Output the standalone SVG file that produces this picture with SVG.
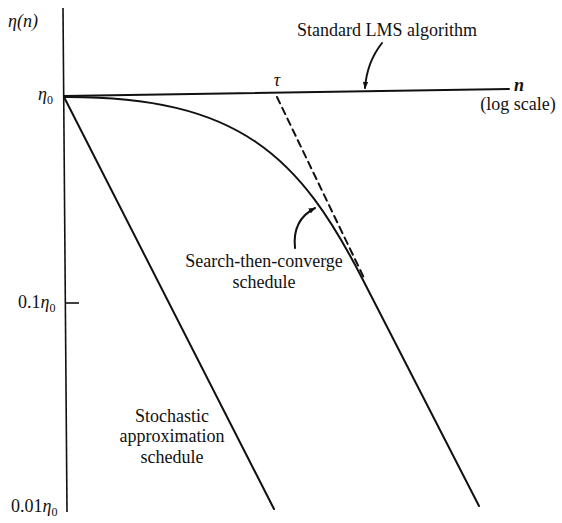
<svg xmlns="http://www.w3.org/2000/svg" width="562" height="523" viewBox="0 0 562 523">
<style>
text{font-family:"Liberation Serif","DejaVu Serif","Times New Roman",serif;font-size:18px;fill:#111}
.i{font-style:italic}
.ln{fill:none;stroke:#111;stroke-width:2;stroke-linecap:round}
.ax{fill:none;stroke:#111;stroke-width:1.6}
</style>
<defs>
<marker id="ah" viewBox="0 0 10 10" refX="9" refY="5" markerWidth="7" markerHeight="7" orient="auto" markerUnits="userSpaceOnUse">
<path d="M0,1 L10,5 L0,9 Z" fill="#111"/>
</marker>
</defs>
<rect width="562" height="523" fill="#fff"/>
<g id="axes">
<line class="ax" x1="63" y1="8" x2="67" y2="512"/>
<line class="ax" x1="66" y1="303" x2="79" y2="303"/>
<text class="i" x="8" y="27" font-size="17">η(n)</text>
<text class="i" x="38" y="100">η<tspan font-size="12" font-style="normal" dy="4">0</tspan></text>
<text x="18" y="308" font-size="17">0.1<tspan class="i">η</tspan><tspan font-size="12" dy="4">0</tspan></text>
<text x="11" y="512" font-size="17">0.01<tspan class="i">η</tspan><tspan font-size="12" dy="4">0</tspan></text>
</g>
<g id="lms">
<line class="ln" x1="64" y1="96" x2="509" y2="89"/>
<text class="i" x="514" y="91" font-size="14" font-weight="bold">n</text>
<text x="518" y="110" text-anchor="middle" font-size="16">(log scale)</text>
<text x="297" y="36" font-size="18.5">Standard LMS algorithm</text>
</g>
<g id="stochastic">
<line class="ln" x1="64" y1="97" x2="274" y2="509"/>
<text x="172" y="422" text-anchor="middle">Stochastic</text>
<text x="172" y="442" text-anchor="middle">approximation</text>
<text x="172" y="463" text-anchor="middle">schedule</text>
</g>
<g id="stc">
<path class="ln" d="M64,97 C240,96 300,157 363,280 L479,506"/>
<line class="ln" x1="277" y1="97" x2="365" y2="280" stroke-dasharray="7,5"/>
<text class="i" x="277" y="86" text-anchor="middle" font-size="14">τ</text>
<text x="264" y="267" text-anchor="middle" font-size="18.5">Search-then-converge</text>
<text x="264" y="288" text-anchor="middle" font-size="18.5">schedule</text>
</g>
<g id="connectors">
<path class="ln" stroke-width="1.5" d="M382,43 Q367,62 365,88" marker-end="url(#ah)"/>
<path class="ln" stroke-width="1.5" d="M295,248 Q292,220 315,208" marker-end="url(#ah)"/>
</g>
</svg>
